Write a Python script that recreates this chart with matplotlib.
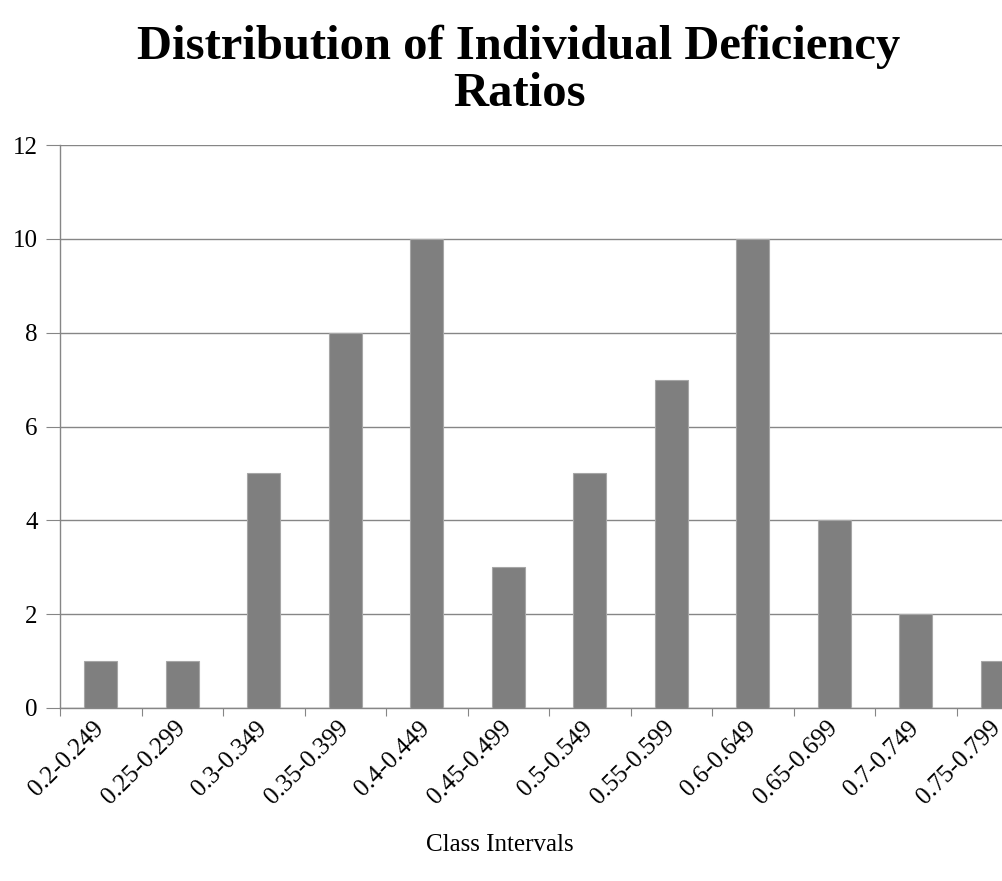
import matplotlib
matplotlib.use("Agg")
import matplotlib.pyplot as plt
import matplotlib.transforms as mtransforms
import numpy as np

categories = ["0.2-0.249", "0.25-0.299", "0.3-0.349", "0.35-0.399", "0.4-0.449",
              "0.45-0.499", "0.5-0.549", "0.55-0.599", "0.6-0.649", "0.65-0.699",
              "0.7-0.749", "0.75-0.799"]
counts = [1, 1, 5, 8, 10, 3, 5, 7, 10, 4, 2, 1]

plt.rcParams['font.family'] = ['Liberation Serif', 'DejaVu Serif']

fig = plt.figure(figsize=(10.02, 8.81), dpi=100)
W, H = 1002, 881
# axes runs past the right edge of the figure like the original (last bar clipped)
ax = fig.add_axes([60 / W, (H - 708) / H, 978 / W, (708 - 145) / H])

x = np.arange(len(categories))
ax.bar(x, counts, width=0.41, color='#7f7f7f', edgecolor='#a6a6a6', linewidth=0.8, zorder=3)

ax.set_xlim(-0.5, len(categories) - 0.5)
ax.set_ylim(0, 12)
ax.set_yticks(range(0, 13, 2))
ax.yaxis.grid(True, color='#868686', linewidth=1.0, zorder=0)

for s in ['top', 'right']:
    ax.spines[s].set_visible(False)
for s in ['left', 'bottom']:
    ax.spines[s].set_color('#868686')
    ax.spines[s].set_linewidth(1.0)

ax.set_xticks(np.arange(-0.5, len(categories), 1.0))
ax.set_xticklabels([])
ax.set_xticks(x, minor=True)
labels = ax.set_xticklabels(categories, minor=True, rotation=45, ha='right', va='center',
                            rotation_mode='anchor', fontsize=18)
shift = mtransforms.ScaledTranslation(15 / 100, 0, fig.dpi_scale_trans)
for lab in labels:
    lab.set_transform(lab.get_transform() + shift)
ax.tick_params(axis='x', which='major', direction='out', length=6, color='#868686')
ax.tick_params(axis='x', which='minor', length=0, pad=12)
ax.tick_params(axis='y', direction='out', length=10, color='#868686', labelsize=18, pad=6)

fig.text(519 / W, 1 - 70 / H, "Distribution of Individual Deficiency\nRatios",
         ha='center', va='center', fontsize=35, fontweight='bold', linespacing=1.08)
fig.text(500 / W, 1 - 845 / H, "Class Intervals", ha='center', va='center', fontsize=18)

fig.savefig("out.png", dpi=100)
